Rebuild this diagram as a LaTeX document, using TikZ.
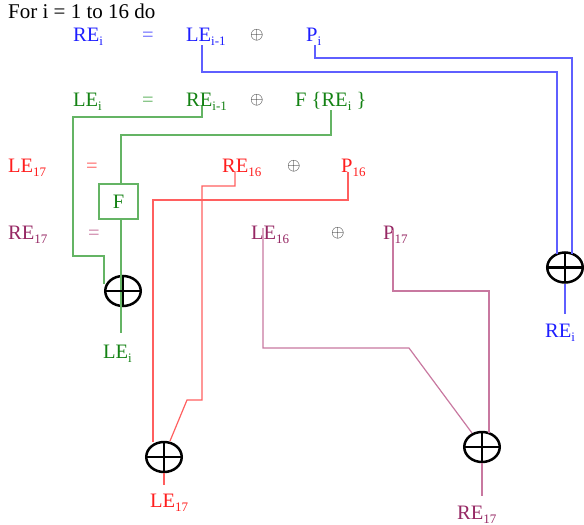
\documentclass[tikz,border=0pt]{standalone}
\usepackage{fontspec}
\setmainfont{Liberation Serif}
\usetikzlibrary{shapes.geometric}
\definecolor{bT}{RGB}{30,30,255}
\definecolor{bL}{RGB}{95,95,255}
\definecolor{gT}{RGB}{20,130,20}
\definecolor{gL}{RGB}{100,180,100}
\definecolor{rT}{RGB}{255,30,30}
\definecolor{rL}{RGB}{255,95,95}
\definecolor{pT}{RGB}{150,40,100}
\definecolor{pL}{RGB}{200,120,160}
\newcommand\sbs[1]{\raisebox{-4pt}{\fontsize{13}{13}\selectfont #1}}
\tikzset{
  lbl/.style={anchor=base west, inner sep=0pt, font=\fontsize{20.5}{20.5}\selectfont},
  opr/.style={anchor=base west, inner sep=0pt, text=black!85, font=\fontsize{18}{18}\selectfont},
  xorc/.style={ellipse, draw=black, line width=2.5pt, minimum width=35.5pt, minimum height=30pt, inner sep=0pt},
  pls/.style={line width=2.5pt, black},
  ln/.style={line width=1.2pt}
}
\begin{document}
\begin{tikzpicture}[x=1pt,y=-1pt]
\useasboundingbox (0,0) rectangle (584,525);
% header
\node[lbl,text=black,font=\fontsize{21}{21}\selectfont] (hdr) at (8,18) {For i = 1 to 16 do};
% blue row
\node[lbl,text=bT] (rei0) at (73,41) {RE\sbs{i}};
\node[lbl,text=bL] (eqb) at (142,41) {=};
\node[lbl,text=bT] (lei1) at (186,41) {LE\sbs{i-1}};
\node[opr] (opb) at (250,39) {$\oplus$};
\node[lbl,text=bT] (pi) at (306,41) {P\sbs{i}};
% green row
\node[lbl,text=gT] (lei0) at (73,106) {LE\sbs{i}};
\node[lbl,text=gL] (eqg) at (142,106) {=};
\node[lbl,text=gT] (rei1) at (186,106) {RE\sbs{i-1}};
\node[opr] (opg) at (250,104) {$\oplus$};
\node[lbl,text=gT] (fre) at (295,106) {F \{RE\sbs{i} \}};
% red row
\node[lbl,text=rT] (le17) at (8,172) {LE\sbs{17}};
\node[lbl,text=rL] (eqr) at (86,172) {=};
\node[lbl,text=rT] (re16) at (222,172) {RE\sbs{16}};
\node[opr] (opr1) at (287,170) {$\oplus$};
\node[lbl,text=rT] (p16) at (341,172) {P\sbs{16}};
% purple row
\node[lbl,text=pT] (re17) at (8,239) {RE\sbs{17}};
\node[lbl,text=pL] (eqp) at (88,239) {=};
\node[lbl,text=pT] (le16) at (251,239) {LE\sbs{16}};
\node[opr] (opp) at (331,237) {$\oplus$};
\node[lbl,text=pT] (p17) at (383,239) {P\sbs{17}};
% F box
\node[draw=gL, line width=1.2pt, minimum width=39pt, minimum height=35pt, inner sep=0pt, text=gT, font=\fontsize{20.5}{20.5}\selectfont] (fbox) at (118.5,201.5) {F};
% xor circles
\node[xorc] (xb) at (565,267.5) {};
\node[xorc] (xg) at (123,291) {};
\node[xorc] (xr) at (164,457) {};
\node[xorc] (xp) at (482,447) {};
% output labels
\node[lbl,text=bT] (reiout) at (545,337) {RE\sbs{i}};
\node[lbl,text=gT] (leiout) at (103,358) {LE\sbs{i}};
\node[lbl,text=rT] (le17out) at (150,507) {LE\sbs{17}};
\node[lbl,text=pT] (re17out) at (457,519) {RE\sbs{17}};
% blue connectors
\draw[ln,bL] (202,0 |- lei1.south) -- (202,72) -- (557,72) -- (557,254);
\draw[ln,bL] (315,0 |- pi.south) -- (315,58) -- (572,58) -- (572,254);
\draw[ln,bL] (xb.south) -- (565,314);
% green connectors
\draw[ln,gL] (202,0 |- rei1.base) -- (202,117) -- (73,117) -- (73,256) -- (104,256) -- (104,284);
\draw[ln,gL] (331,0 |- fre.south) -- (331,135) -- (121,135) -- (fbox.north -| 121,0);
\draw[ln,gL] (fbox.south -| 121,0) -- (121,333);
% red connectors
\draw[ln,rL] (235,0 |- re16.base) -- (235,186) -- (202,186) -- (202,400) -- (187,400) -- (170,441);
\draw[ln,rL] (348,0 |- p16.base) -- (348,200) -- (153,200) -- (153,442);
\draw[ln,rL] (xr.south) -- (164,485);
% purple connectors
\draw[ln,pL] (263,228) -- (263,348) -- (409,348) -- (472,433);
\draw[ln,pL] (393,230) -- (393,291) -- (489,291) -- (489,433);
\draw[ln,pL] (xp.south) -- (482,496);
% pluses
\foreach \c in {xb,xg,xr,xp}{
  \draw[pls] ([yshift=-1pt]\c.north) -- ([yshift=1pt]\c.south);
  \draw[pls] ([xshift=1pt]\c.west) -- ([xshift=-1pt]\c.east);
}
\end{tikzpicture}
\end{document}
